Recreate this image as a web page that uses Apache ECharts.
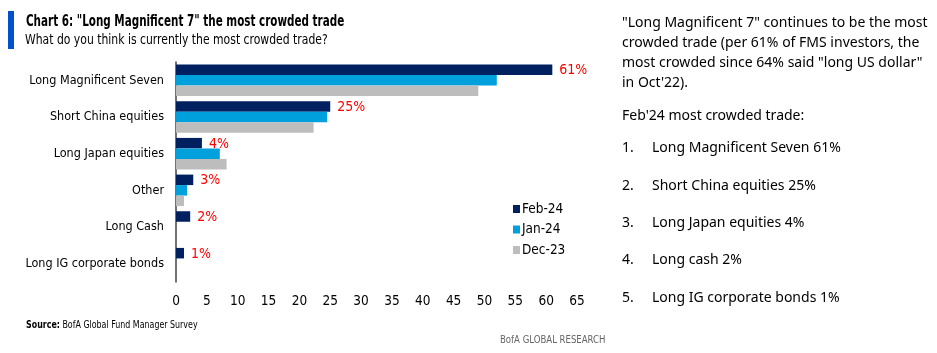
<!DOCTYPE html>
<html>
<head>
<meta charset="utf-8">
<script src="https://cdn.jsdelivr.net/npm/echarts@6/dist/echarts.min.js"></script>
<style>
  html, body { margin: 0; padding: 0; background: #fff; }
  #main { width: 937px; height: 353px; }
</style>
</head>
<body>
<div id="main"></div>
<script>
// 数据
var categories = ['Long Magnificent Seven', 'Short China equities', 'Long Japan equities', 'Other', 'Long Cash', 'Long IG corporate bonds'];
var feb24 = [61, 25, 4.2, 2.8, 2.3, 1.3];
var jan24 = [52, 24.5, 7.1, 1.8, null, null];
var dec23 = [49, 22.3, 8.2, 1.3, null, null];
var febLabels = ['61%', '25%', '4%', '3%', '2%', '1%'];
var xTicks = { min: 0, max: 65, interval: 5 };

var narrow = '"DejaVu Sans Condensed", "Liberation Sans", sans-serif';
var plain = '"Noto Sans", "Open Sans", sans-serif';

var rightLines = [
  '"Long Magnificent 7" continues to be the most',
  'crowded trade (per 61% of FMS investors, the',
  'most crowded since 64% said "long US dollar"',
  'in Oct\'22).'
];
var listItems = [
  'Long Magnificent Seven 61%',
  'Short China equities 25%',
  'Long Japan equities 4%',
  'Long cash 2%',
  'Long IG corporate bonds 1%'
];
var listY = [151, 189, 226, 263, 301];

(function () {
    var myChart = echarts.init(document.getElementById('main'));

    // 标题、右边的文字、来源
    var graphics = [
        { type: 'rect', shape: { x: 8, y: 11, width: 6, height: 38 }, style: { fill: '#0052cc' } },
        { type: 'text', x: 26, y: 15, scaleX: 0.77, style: { text: 'Chart 6: "Long Magnificent 7" the most crowded trade', font: 'bold 15px ' + narrow, fill: '#000' } },
        { type: 'text', x: 25, y: 33, scaleX: 0.86, style: { text: 'What do you think is currently the most crowded trade?', font: '14px ' + narrow, fill: '#000' } },
        { type: 'text', left: 622, top: 13, style: { text: rightLines.join('\n'), font: '14px ' + plain, lineHeight: 20, fill: '#000' } },
        { type: 'text', left: 622, top: 109, style: { text: 'Feb\'24 most crowded trade:', font: '14px ' + plain, fill: '#000' } },
        {
            type: 'text', x: 26, y: 320, scaleX: 0.88,
            style: {
                text: '{b|Source:} BofA Global Fund Manager Survey',
                rich: {
                    b: { font: 'bold 10px ' + narrow, fill: '#000' }
                },
                font: '10px ' + narrow, fill: '#000'
            }
        },
        { type: 'text', x: 500, y: 335, scaleX: 0.95, style: { text: 'BofA GLOBAL RESEARCH', font: '10px ' + narrow, fill: '#666' } }
    ];
    listItems.forEach(function (t, i) {
        graphics.push({ type: 'text', left: 622, top: listY[i] - 10, style: { text: (i + 1) + '.', font: '14px ' + plain, fill: '#000' } });
        graphics.push({ type: 'text', left: 652, top: listY[i] - 10, style: { text: t, font: '14px ' + plain, fill: '#000' } });
    });

    var option = {
        animation: false,
        textStyle: { fontFamily: narrow },
        grid: { left: 176, right: 360, top: 62, bottom: 71 },
        legend: {
            orient: 'vertical',
            left: 508,
            top: 197,
            itemWidth: 7,
            itemHeight: 8,
            itemGap: 6.5,
            icon: 'rect',
            textStyle: { fontSize: 13.5, color: '#000', padding: [0, 0, 0, -3] },
            data: ['Feb-24', 'Jan-24', 'Dec-23']
        },
        xAxis: {
            type: 'value',
            min: xTicks.min,
            max: xTicks.max,
            interval: xTicks.interval,
            splitLine: { show: false },
            axisLine: { show: false },
            axisTick: { show: false },
            axisLabel: { color: '#000', fontSize: 13.5, margin: 12 }
        },
        yAxis: {
            type: 'category',
            inverse: true,
            data: categories,
            axisLine: { lineStyle: { color: '#444', width: 1.5 } },
            axisTick: { show: false },
            axisLabel: { color: '#000', fontSize: 12.5, margin: 12 }
        },
        series: [
            {
                name: 'Feb-24', type: 'bar', data: feb24,
                barWidth: 10.5, barGap: '0%',
                itemStyle: { color: '#002060' },
                label: {
                    show: true, position: 'right', distance: 7, offset: [0, 1],
                    color: '#ff0000', fontSize: 14,
                    formatter: function (p) { return febLabels[p.dataIndex]; }
                }
            },
            { name: 'Jan-24', type: 'bar', data: jan24, barWidth: 10.5, barGap: '0%', itemStyle: { color: '#00a0dd' } },
            { name: 'Dec-23', type: 'bar', data: dec23, barWidth: 10.5, barGap: '0%', itemStyle: { color: '#bdbdbd' } }
        ],
        graphic: graphics
    };
    myChart.setOption(option);
})();
</script>
</body>
</html>
